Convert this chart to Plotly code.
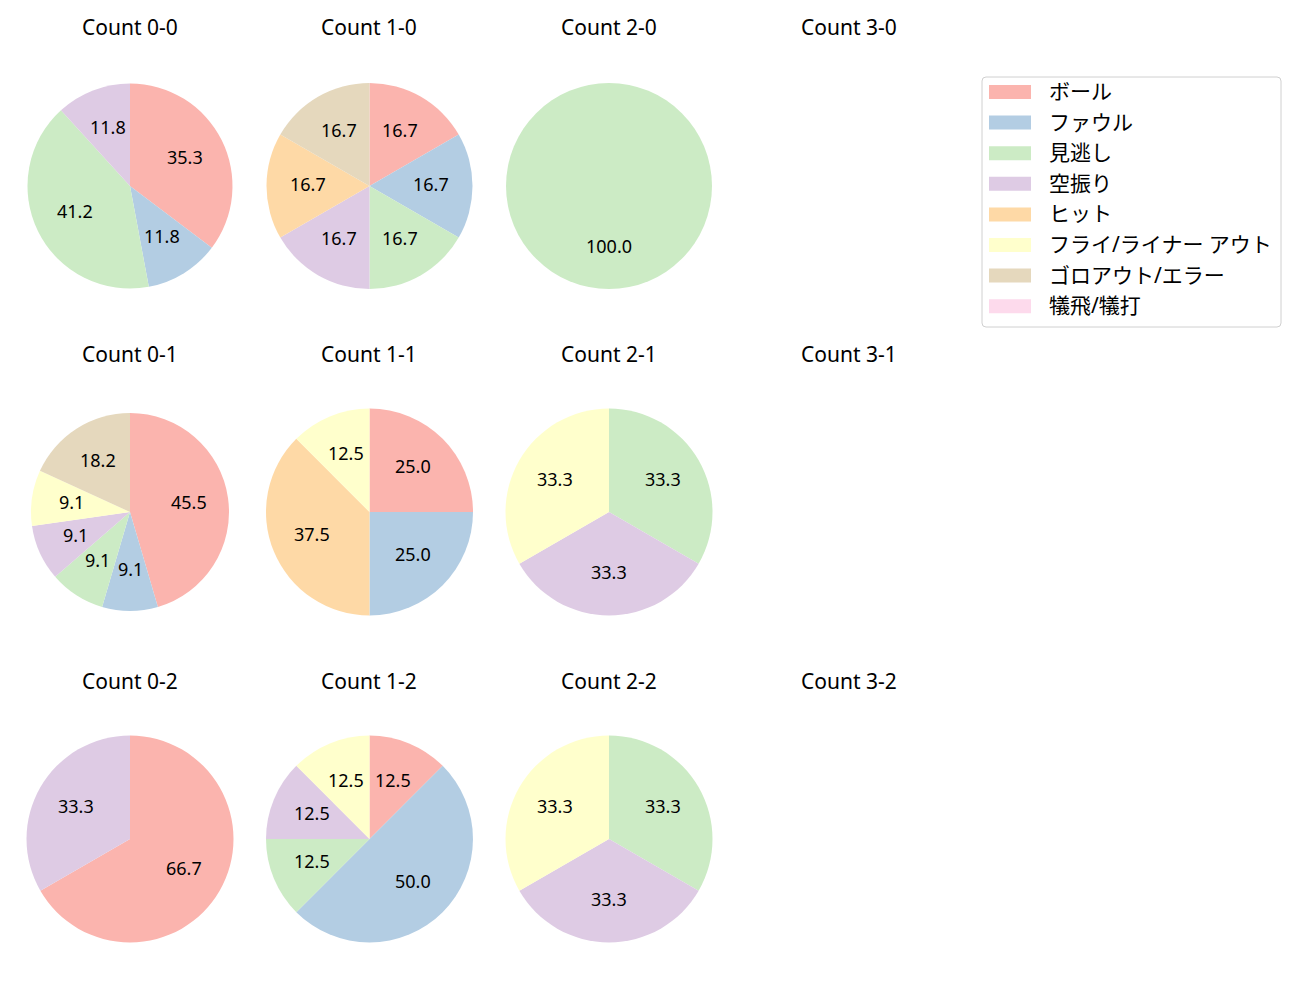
import math
import plotly.graph_objects as go

categories = ["ボール", "ファウル", "見逃し", "空振り", "ヒット",
              "フライ/ライナー アウト", "ゴロアウト/エラー", "犠飛/犠打"]
colors = ["#fbb4ae", "#b3cde3", "#ccebc5", "#decbe4", "#fed9a6",
          "#ffffcc", "#e5d8bd", "#fddaec"]

count_titles = ["Count 0-0", "Count 1-0", "Count 2-0", "Count 3-0",
                "Count 0-1", "Count 1-1", "Count 2-1", "Count 3-1",
                "Count 0-2", "Count 1-2", "Count 2-2", "Count 3-2"]

# pitch-result counts per ball-strike count (order follows categories)
c_0_0 = [6, 2, 7, 2, 0, 0, 0, 0]
c_1_0 = [1, 1, 1, 1, 1, 0, 1, 0]
c_2_0 = [0, 0, 1, 0, 0, 0, 0, 0]
c_3_0 = [0, 0, 0, 0, 0, 0, 0, 0]
c_0_1 = [5, 1, 1, 1, 0, 1, 2, 0]
c_1_1 = [2, 2, 0, 0, 3, 1, 0, 0]
c_2_1 = [0, 0, 1, 1, 0, 1, 0, 0]
c_3_1 = [0, 0, 0, 0, 0, 0, 0, 0]
c_0_2 = [2, 0, 0, 1, 0, 0, 0, 0]
c_1_2 = [1, 4, 1, 1, 0, 1, 0, 0]
c_2_2 = [0, 0, 1, 1, 0, 1, 0, 0]
c_3_2 = [0, 0, 0, 0, 0, 0, 0, 0]
all_counts = [c_0_0, c_1_0, c_2_0, c_3_0, c_0_1, c_1_1, c_2_1, c_3_1,
              c_0_2, c_1_2, c_2_2, c_3_2]

W, H = 1300, 1000
OFF = 8  # page body margin offset
FONT = "Noto Sans, Noto Sans CJK JP"
col_x = [130, 369.5, 609, 849]
row_y = [186, 512, 839]
title_y = [28, 355, 682]
radii = [102.5, 103, 103, 103, 99, 103.5, 103.5, 103, 103.5, 103.5, 103.5, 103]


def px2x(p):
    return (p - OFF) / W


def px2y(p):
    return 1 - (p - OFF) / H


fig = go.Figure()
annotations = []

for idx, vals in enumerate(all_counts):
    r_i, c_i = divmod(idx, 4)
    cx, cy, R = col_x[c_i], row_y[r_i], radii[idx]
    annotations.append(dict(x=px2x(cx), y=px2y(title_y[r_i] - 1), xref="paper", yref="paper",
                            text=count_titles[idx], showarrow=False,
                            font=dict(family=FONT, size=21, color="#000"),
                            xanchor="center", yanchor="middle"))
    labs = [categories[k] for k in range(8) if vals[k] > 0]
    vs = [vals[k] for k in range(8) if vals[k] > 0]
    cols = [colors[k] for k in range(8) if vals[k] > 0]
    if not vs:
        continue
    total = sum(vs)
    fig.add_trace(go.Pie(
        labels=labs, values=vs, sort=False, direction="clockwise", rotation=0,
        marker=dict(colors=cols, line=dict(width=0)),
        textinfo="none", hoverinfo="label+percent", showlegend=False,
        domain=dict(x=[px2x(cx - R), px2x(cx + R)], y=[px2y(cy + R), px2y(cy - R)]),
    ))
    cum = 0.0
    for v in vs:
        f = v / total
        th = math.radians(90 - 360 * (cum + f / 2))
        cum += f
        px = cx + 0.6 * R * math.cos(th)
        py = cy - 0.6 * R * math.sin(th)
        annotations.append(dict(x=px2x(px), y=px2y(py - 2), xref="paper", yref="paper",
                                text=f"{100 * f:.1f}", showarrow=False,
                                font=dict(family=FONT, size=18, color="#000"),
                                xanchor="center", yanchor="middle"))

# custom legend
shapes = []
lx0, lx1, ly0, ly1, rr = 982, 1281, 77, 327, 4
X0, X1, Y0, Y1 = px2x(lx0), px2x(lx1), px2y(ly0), px2y(ly1)
XR0, XR1, YR0, YR1 = px2x(lx0 + rr), px2x(lx1 - rr), px2y(ly0 + rr), px2y(ly1 - rr)
path = (f"M {XR0},{Y0} L {XR1},{Y0} Q {X1},{Y0} {X1},{YR0} "
        f"L {X1},{YR1} Q {X1},{Y1} {XR1},{Y1} "
        f"L {XR0},{Y1} Q {X0},{Y1} {X0},{YR1} "
        f"L {X0},{YR0} Q {X0},{Y0} {XR0},{Y0} Z")
shapes.append(dict(type="path", path=path, xref="paper", yref="paper",
                   line=dict(color="#d0d0d0", width=1), fillcolor="rgba(255,255,255,0.8)"))
for k, (lab, col) in enumerate(zip(categories, colors)):
    yc = 92 + k * 30.6
    shapes.append(dict(type="rect", xref="paper", yref="paper",
                       x0=px2x(989), x1=px2x(1031), y0=px2y(yc - 7), y1=px2y(yc + 7),
                       fillcolor=col, line=dict(width=0)))
    annotations.append(dict(x=px2x(1047), y=px2y(yc - 1), xref="paper", yref="paper",
                            text=lab, showarrow=False,
                            font=dict(family=FONT, size=21, color="#000"),
                            xanchor="left", yanchor="middle"))

fig.update_layout(width=W, height=H, margin=dict(l=0, r=0, t=0, b=0),
                  paper_bgcolor="white", plot_bgcolor="white",
                  annotations=annotations, shapes=shapes,
                  font=dict(family=FONT))
fig.write_html("out.html")
